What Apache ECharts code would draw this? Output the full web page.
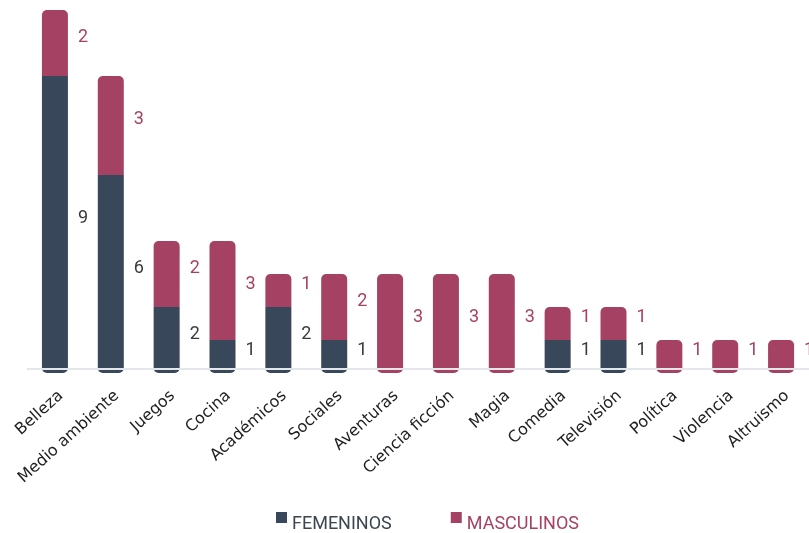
<!DOCTYPE html>
<html>
<head>
<meta charset="utf-8">
<script src="https://cdn.jsdelivr.net/npm/echarts@6/dist/echarts.min.js"></script>
<style>
  html, body { margin: 0; padding: 0; background: #ffffff; }
  #chart { width: 809px; height: 533px; }
</style>
</head>
<body>
<div id="chart"></div>
<script>
// Temas por género de los personajes
const categories = ['Belleza', 'Medio ambiente', 'Juegos', 'Cocina', 'Académicos', 'Sociales',
  'Aventuras', 'Ciencia ficción', 'Magia', 'Comedia', 'Televisión', 'Política', 'Violencia', 'Altruismo'];
const femeninos = [9, 6, 2, 1, 2, 1, null, null, null, 1, 1, null, null, null];
const masculinos = [2, 3, 2, 3, 1, 2, 3, 3, 3, 1, 1, 1, 1, 1];

const FEM = '#38475a';
const MASC = '#a54264';
const R = 5;

const femData = femeninos.map(v => v == null ? null : ({
  value: v,
  itemStyle: { borderRadius: [0, 0, R, R] }
}));
const mascData = masculinos.map((v, i) => ({
  value: v,
  itemStyle: { borderRadius: femeninos[i] == null ? [R, R, R, R] : [R, R, 0, 0] }
}));

// legend swatch sits a little above the text baseline
const SWATCH = 'path://M0,0h11v11h-11z M0,24h0.01v0.01h-0.01z';

const valueFont = { fontFamily: 'Roboto, sans-serif', fontSize: 18 };

const chart = echarts.init(document.getElementById('chart'), null, { renderer: 'canvas' });
chart.setOption({
  animation: false,
  backgroundColor: '#ffffff',
  grid: { left: 27, width: 787, top: 10, bottom: 160 },
  legend: {
    top: 512,
    left: 276,
    padding: 0,
    itemWidth: 11,
    itemHeight: 24,
    itemGap: 59,
    icon: SWATCH,
    data: [
      { name: 'FEMENINOS', textStyle: { color: '#3c4650' } },
      { name: 'MASCULINOS', textStyle: { color: MASC } }
    ],
    textStyle: {
      fontFamily: 'Roboto, sans-serif',
      fontSize: 18
    }
  },
  xAxis: {
    type: 'category',
    data: categories,
    axisTick: { show: false },
    axisLine: { show: false },
    axisLabel: {
      rotate: 42,
      interval: 0,
      margin: 14,
      verticalAlign: 'top',
      lineHeight: 18,
      color: '#1e1e1e',
      fontFamily: 'DejaVu Sans, sans-serif',
      fontSize: 16
    }
  },
  yAxis: {
    type: 'value',
    min: 0,
    max: 11,
    show: false,
    splitLine: { show: false }
  },
  series: [
    {
      // baseline rule, drawn beneath the bars
      type: 'line',
      data: [],
      z: 1,
      silent: true,
      markLine: {
        symbol: 'none',
        silent: true,
        label: { show: false },
        lineStyle: { color: '#e3e6ea', width: 2, type: 'solid' },
        data: [{ yAxis: 0.13 }]
      }
    },
    {
      name: 'FEMENINOS',
      type: 'bar',
      stack: 'total',
      barWidth: 26,
      z: 3,
      data: femData,
      itemStyle: { color: FEM },
      label: Object.assign({
        show: true,
        position: 'right',
        distance: 10,
        offset: [0, -6],
        color: '#3a3a3a'
      }, valueFont)
    },
    {
      name: 'MASCULINOS',
      type: 'bar',
      stack: 'total',
      barWidth: 26,
      z: 3,
      data: mascData,
      itemStyle: { color: MASC },
      label: Object.assign({
        show: true,
        position: 'right',
        distance: 10,
        offset: [0, -6],
        color: MASC
      }, valueFont)
    }
  ]
});
</script>
</body>
</html>
